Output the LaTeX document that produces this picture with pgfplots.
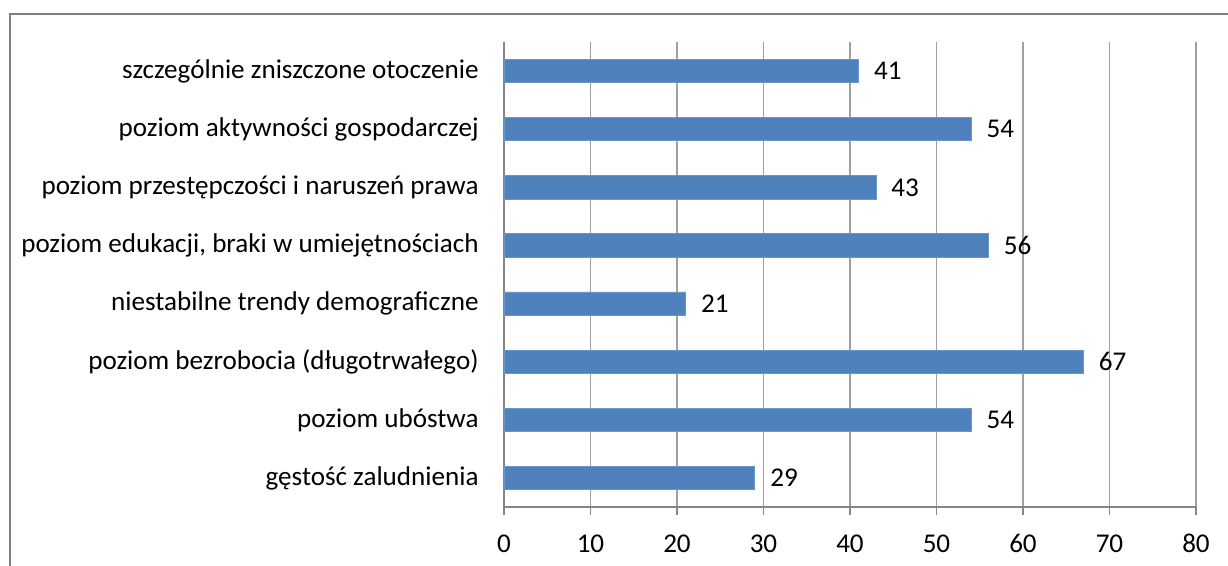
\documentclass[border=0pt]{standalone}
\usepackage{pgfplots}
\pgfplotsset{compat=1.18}
\usepackage{fontspec}
\setmainfont{Carlito}
\definecolor{barblue}{HTML}{4F81BD}
\definecolor{gridgray}{HTML}{A0A0A0}
\definecolor{axisgray}{HTML}{868686}
\definecolor{framegray}{HTML}{7F7F7F}
\begin{document}
\fontsize{13.6}{16}\selectfont
\begin{tikzpicture}
\path[use as bounding box] (-252bp,-29.5bp) rectangle (362bp,253.5bp);
\draw[framegray, line width=1.4bp] (-247bp,-40bp) -- (-247bp,246.5bp) -- (370bp,246.5bp);
\begin{axis}[
  at={(0,0)}, anchor=south west,
  scale only axis,
  width=346bp, height=232.5bp,
  xbar, bar width=0.4,
  xmin=0, xmax=80,
  ymin=-0.5, ymax=7.5,
  xtick={0,10,...,80},
  ytick={0,...,7},
  minor ytick={-0.5,0.5,...,7.5},
  yticklabels={gęstość zaludnienia, poziom ubóstwa, poziom bezrobocia (długotrwałego), niestabilne trendy demograficzne, {poziom edukacji, braki w umiejętnościach}, poziom przestępczości i naruszeń prawa, poziom aktywności gospodarczej, szczególnie zniszczone otoczenie},
  axis x line*=bottom, axis y line*=left,
  axis line style={axisgray, line width=0.8bp, -},
  xmajorgrids, grid style={gridgray, line width=0.8bp},
  tick align=outside,
  major tick length=4bp,
  ytick style={draw=none},
  minor tick length=4bp,
  minor tick style={axisgray, line width=0.8bp},
  xtick style={axisgray, line width=0.8bp},
  /pgf/number format/assume math mode=true,
  tick label style={font=\fontsize{13.6}{16}\selectfont, text=black},
  yticklabel style={xshift=-4bp},
  xticklabel style={yshift=-5bp},
  nodes near coords,
  nodes near coords style={anchor=west, xshift=3bp, font=\fontsize{13.6}{16}\selectfont, text=black},
  clip=false,
]
\addplot[fill=barblue, draw=barblue!85!white, line width=0.4bp] coordinates {
(29,0) (54,1) (67,2) (21,3) (56,4) (43,5) (54,6) (41,7)
};
\end{axis}
\end{tikzpicture}
\end{document}
